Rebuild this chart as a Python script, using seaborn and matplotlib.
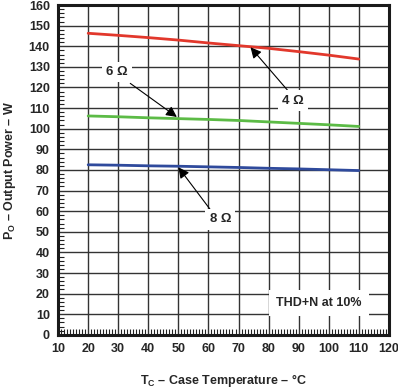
import pandas as pd
import seaborn as sns
import matplotlib.pyplot as plt
from matplotlib.ticker import MultipleLocator

# case temperature (°C)
temps = [20, 30, 40, 50, 60, 70, 80, 90, 100, 110]
# output power (W) for each load
p_4ohm = [146.3, 145.3, 144.2, 143.0, 141.6, 140.3, 139.0, 137.4, 135.7, 133.8]
p_6ohm = [106.2, 105.8, 105.3, 104.9, 104.5, 104.0, 103.3, 102.6, 101.9, 101.1]
p_8ohm = [82.5, 82.3, 82.0, 81.8, 81.5, 81.2, 80.8, 80.5, 80.1, 79.7]
loads = ["4 Ω", "6 Ω", "8 Ω"]
colors = ["#e2382c", "#5cbb46", "#2f4a9c"]

df = pd.concat([
    pd.DataFrame({"temp": temps, "power": p, "load": name})
    for p, name in zip([p_4ohm, p_6ohm, p_8ohm], loads)
])

sns.set_style("white")
plt.rcParams["font.family"] = ["Liberation Sans", "DejaVu Sans"]
plt.rcParams["mathtext.fontset"] = "custom"
plt.rcParams["mathtext.rm"] = "Liberation Sans"
plt.rcParams["mathtext.bf"] = "Liberation Sans:bold"

fig = plt.figure(figsize=(3.98, 3.88), dpi=100)
ax = fig.add_axes([0.146, 0.137, 0.831, 0.850])

sns.lineplot(data=df, x="temp", y="power", hue="load", palette=colors,
             linewidth=2.0, legend=False, ax=ax, zorder=3)

ax.set_xlim(10, 120)
ax.set_ylim(0, 160)
ax.xaxis.set_major_locator(MultipleLocator(10))
ax.yaxis.set_major_locator(MultipleLocator(10))
ax.xaxis.set_minor_locator(MultipleLocator(1))
ax.yaxis.set_minor_locator(MultipleLocator(2))
ax.grid(True, which="major", color="#333333", linewidth=1.0)
ax.tick_params(which="major", length=0, labelsize=9, pad=6)
ax.tick_params(which="minor", direction="in", length=4, width=0.8,
               color="#222222", bottom=True, left=True)
for lab in ax.get_xticklabels() + ax.get_yticklabels():
    lab.set_fontweight("bold")
for s in ax.spines.values():
    s.set_linewidth(2.2)
    s.set_color("#1a1a1a")

ax.set_xlabel(r"T$_\mathbf{C}$ – Case Temperature – °C", fontsize=9,
              fontweight="bold", labelpad=12)
ax.set_ylabel(r"P$_\mathbf{O}$ – Output Power – W", fontsize=9,
              fontweight="bold", labelpad=8)

box = dict(facecolor="white", edgecolor="none", pad=3)
arrow = dict(arrowstyle="-|>", color="black", lw=0.8, mutation_scale=16,
             shrinkA=0, shrinkB=0)
ax.annotate("", xy=(49.5, 105.7), xytext=(34, 122), arrowprops=arrow, zorder=4)
ax.text(29.6, 127.5, "6 Ω", fontsize=9.5, fontweight="bold",
        ha="center", va="center", bbox=box, zorder=5)
ax.annotate("", xy=(74, 139.5), xytext=(86.7, 118), arrowprops=arrow, zorder=4)
ax.text(88, 113.6, "4 Ω", fontsize=9.5, fontweight="bold",
        ha="center", va="center", bbox=box, zorder=5)
ax.annotate("", xy=(50, 81.3), xytext=(60.7, 60.6), arrowprops=arrow, zorder=4)
ax.text(64, 56, "8 Ω", fontsize=9.5, fontweight="bold",
        ha="center", va="center", bbox=box, zorder=5)
ax.text(96.7, 15.5, "THD+N at 10%", fontsize=9, fontweight="bold",
        ha="center", va="center", bbox=dict(facecolor="white", edgecolor="none", pad=5),
        zorder=5)

fig.savefig("out.png", dpi=100)
